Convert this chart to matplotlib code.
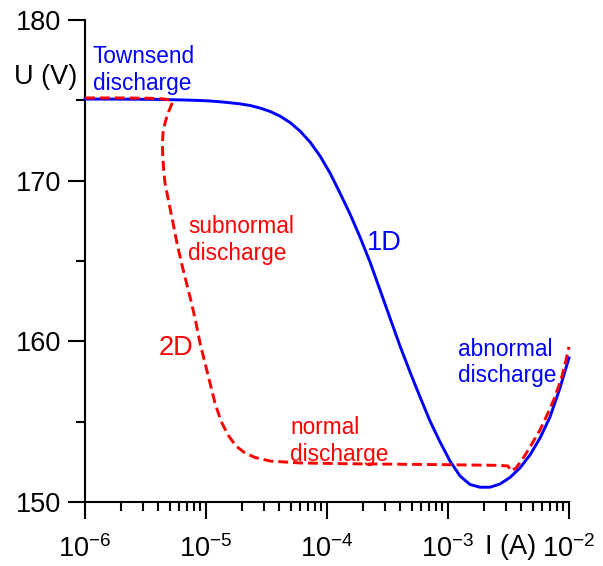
import matplotlib
matplotlib.use("Agg")
import matplotlib.pyplot as plt
from matplotlib.ticker import FixedLocator, FixedFormatter, LogLocator, NullFormatter

# ── data ──────────────────────────────────────────────────────────────────
# 1D model, solid blue
i_1d = [1.00e-6, 2.36e-6, 3.44e-6, 5.04e-6, 6.70e-6, 8.92e-6, 1.079e-5, 1.305e-5,
        1.579e-5, 1.910e-5, 2.310e-5, 2.794e-5, 3.380e-5, 4.088e-5, 4.945e-5,
        5.981e-5, 7.235e-5, 8.752e-5, 1.0587e-4, 1.2806e-4, 1.549e-4, 1.874e-4,
        2.267e-4, 2.742e-4, 3.317e-4, 4.012e-4, 4.853e-4, 5.870e-4, 7.101e-4,
        8.590e-4, 1.039e-3, 1.2568e-3, 1.520e-3, 1.839e-3, 2.224e-3, 2.691e-3,
        3.255e-3, 3.936e-3, 4.762e-3, 5.760e-3, 6.966e-3, 8.425e-3, 9.267e-3,
        1.00e-2]
u_1d = [175.08, 175.07, 175.06, 175.04, 175.02, 174.99, 174.96, 174.91,
        174.85, 174.78, 174.68, 174.52, 174.31, 174.02, 173.62,
        173.09, 172.41, 171.54, 170.48, 169.23, 167.93, 166.49,
        164.94, 163.20, 161.45, 159.71, 158.09, 156.54, 155.04,
        153.74, 152.55, 151.62, 151.09, 150.92, 150.92, 151.12,
        151.53, 152.12, 152.93, 153.98, 155.29, 157.10, 158.15,
        158.96]

# 2D model, dashed red
i_2d = [1.00e-6, 1.95e-6, 3.44e-6, 4.58e-6, 5.04e-6, 5.285e-6, 5.137e-6, 4.853e-6,
        4.583e-6, 4.411e-6, 4.369e-6, 4.38e-6, 4.454e-6, 4.583e-6, 4.945e-6,
        5.336e-6, 5.757e-6, 6.272e-6, 6.900e-6, 7.591e-6, 8.270e-6, 8.92e-6,
        9.81e-6, 1.079e-5, 1.187e-5, 1.330e-5, 1.520e-5, 1.769e-5, 2.100e-5,
        2.541e-5, 3.380e-5, 5.981e-5, 1.549e-4, 4.012e-4, 1.039e-3, 2.691e-3,
        3.133e-3, 3.317e-3, 3.648e-3, 4.088e-3, 4.762e-3, 5.760e-3, 6.706e-3,
        7.660e-3, 8.752e-3, 9.445e-3, 1.00e-2]
u_2d = [175.15, 175.15, 175.13, 175.08, 175.02, 174.90, 174.65, 174.21,
        173.59, 172.97, 172.34, 171.72, 170.79, 169.85, 168.61,
        167.37, 166.12, 164.88, 163.63, 162.39, 161.14, 159.90,
        158.65, 157.41, 156.16, 155.04, 154.17, 153.49, 153.05,
        152.77, 152.55, 152.43, 152.38, 152.35, 152.32, 152.28,
        152.24, 151.93, 152.12, 152.61, 153.42, 154.48, 155.54,
        156.54, 157.84, 158.84, 159.65]

x_ticks = [1e-6, 1e-5, 1e-4, 1e-3, 1e-2]
x_tick_labels = ["10$^{-6}$", "10$^{-5}$", "10$^{-4}$", "10$^{-3}$", "10$^{-2}$"]
y_ticks = [150, 160, 170, 180]
y_minor = [155, 165, 175]

BLUE = "#0000ff"
RED = "#ff0000"

plt.rcParams["font.family"] = ["Liberation Sans", "DejaVu Sans"]
plt.rcParams["mathtext.fontset"] = "custom"
plt.rcParams["mathtext.rm"] = "Liberation Sans"
plt.rcParams["mathtext.default"] = "regular"

fig = plt.figure(figsize=(6.03, 5.66), dpi=100)
ax = fig.add_axes([85 / 603, 1 - 502 / 566, (569 - 85) / 603, (502 - 20) / 566])

ax.plot(i_1d, u_1d, color=BLUE, lw=2.1, clip_on=False, zorder=3)
ax.plot(i_2d, u_2d, color=RED, lw=2.1, dashes=(3.4, 1.7), clip_on=False, zorder=4)

ax.set_xscale("log")
ax.set_xlim(1e-6, 1e-2)
ax.set_ylim(150, 180)

for s in ("top", "right"):
    ax.spines[s].set_visible(False)
for s in ("left", "bottom"):
    ax.spines[s].set_linewidth(1.5)

ax.xaxis.set_major_locator(FixedLocator(x_ticks))
ax.xaxis.set_major_formatter(FixedFormatter(x_tick_labels))
ax.xaxis.set_minor_locator(LogLocator(base=10, subs=range(2, 10), numticks=20))
ax.xaxis.set_minor_formatter(NullFormatter())
ax.yaxis.set_major_locator(FixedLocator(y_ticks))
ax.yaxis.set_minor_locator(FixedLocator(y_minor))

ax.tick_params(axis="both", which="major", direction="out", length=12, width=1.5,
               labelsize=19.5)
ax.tick_params(axis="both", which="minor", direction="out", length=6.5, width=1.5)
ax.tick_params(axis="x", which="major", pad=12)
ax.tick_params(axis="y", which="major", pad=5)

# axis names sit inside the tick label area
ax.text(4.77e-7, 176.45, "U (V)", fontsize=19.5, ha="center", va="center", clip_on=False)
ax.text(3.32e-3, 147.2, "I (A)", fontsize=19.5, ha="center", va="center", clip_on=False)

# annotations
ANN = 16.3
ax.text(1.16e-6, 176.89, "Townsend\ndischarge", color=BLUE, fontsize=ANN,
        ha="left", va="center")
ax.text(7.1e-6, 166.3, "subnormal\ndischarge", color=RED, fontsize=ANN,
        ha="left", va="center")
ax.text(2.96e-4, 166.12, "1D", color=BLUE, fontsize=19.5, ha="center", va="center")
ax.text(5.65e-6, 159.59, "2D", color=RED, fontsize=19.5, ha="center", va="center")
ax.text(4.94e-5, 153.81, "normal\ndischarge", color=RED, fontsize=ANN,
        ha="left", va="center")
ax.text(1.21e-3, 158.68, "abnormal\ndischarge", color=BLUE, fontsize=ANN,
        ha="left", va="center")

fig.savefig("out.png", dpi=100)
